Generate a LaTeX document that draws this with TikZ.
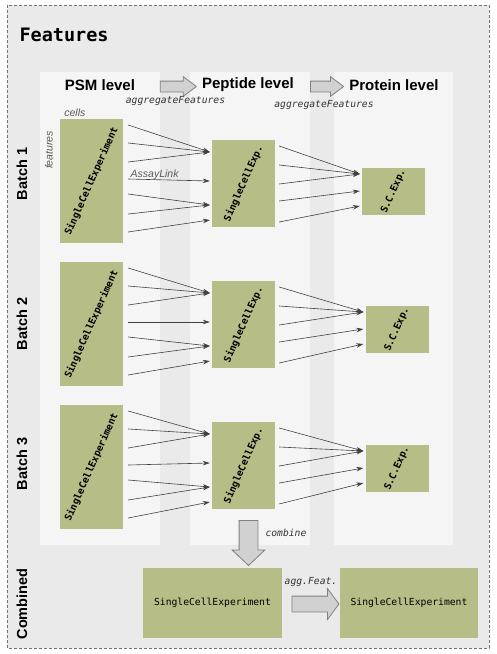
\documentclass[tikz,border=0pt]{standalone}
\usepackage{fontspec}
\setmainfont{Liberation Sans}
\setmonofont{DejaVu Sans Mono}
\usetikzlibrary{calc,positioning,shapes.arrows,arrows.meta}
\definecolor{olivebox}{RGB}{182,189,135}
\definecolor{panelgray}{RGB}{245,245,245}
\definecolor{framegray}{RGB}{234,234,234}
\definecolor{linkgray}{RGB}{64,64,64}
\definecolor{notegray}{RGB}{90,90,90}

\begin{document}
\begin{tikzpicture}[x=1pt, y=-1pt,
  sce/.style={fill=olivebox, inner sep=0pt, font=\fontsize{9.7}{11}\selectfont\ttfamily},
  panel/.style={fill=panelgray, draw=none},
  level/.style={font=\fontsize{15}{18}\selectfont\bfseries},
  batch/.style={font=\fontsize{14.5}{17}\selectfont\bfseries, rotate=90},
  link/.style={draw=linkgray, line width=0.6pt, -{Stealth[length=7pt,width=4.5pt]}},
  note/.style={font=\fontsize{10.5}{12}\selectfont\itshape, text=notegray},
  fname/.style={font=\fontsize{9.7}{11}\selectfont\ttfamily\itshape, text=black!80},
  bigarrow/.style={single arrow, draw=black!50, fill=black!18, inner xsep=0pt, line width=0.8pt}]
  \useasboundingbox (0,0) rectangle (496,654);

  % frame and level panels
  \draw[draw=black!55, fill=framegray, dash pattern=on 3pt off 2pt, line width=0.8pt] (7,5) rectangle (489,648);
  \node[font=\fontsize{18.5}{22}\selectfont\ttfamily\bfseries, anchor=west] (title) at (16,35) {Features};
  \fill[panel] (40,72) rectangle (160,545);
  \fill[panel] (190,72) rectangle (310,545);
  \fill[panel] (334,72) rectangle (453,545);

  \node[level] (psm) at (100,85) {PSM level};
  \node[level] (pep) at (248,85) {Peptide level};
  \node[level] (prot) at (394,85) {Protein level};
  \node[bigarrow, minimum height=36pt, inner ysep=5pt, single arrow head extend=4.5pt, single arrow tip angle=74] (agg1) at (174.75,86.5) {};
  \node[bigarrow, minimum height=33pt, inner ysep=5pt, single arrow head extend=4.5pt, single arrow tip angle=74] (agg2) at (323.5,86.5) {};
  \node[fname] (aggtxt1) at (175.5,101) {aggregateFeatures};
  \node[fname] (aggtxt2) at (324,105) {aggregateFeatures};

  % batches
  \foreach \b/\ya/\yb/\yc/\xc/\yl in {1/119/140/168/393.5/174, 2/262/281/306/397/324, 3/405/422/445/397/464}{
    \node[sce, minimum width=63pt, minimum height=124pt, anchor=north] (psm\b) at (91.5,\ya) {\rotatebox{66}{\bfseries SingleCellExperiment}};
    \node[sce, minimum width=63pt, minimum height=87pt, anchor=north] (pep\b) at (243.5,\yb) {\rotatebox{66}{\bfseries SingleCellExp.}};
    \node[sce, minimum width=63pt, minimum height=45pt, anchor=north] (prot\b) at (\xc,\yc) {\rotatebox{66}{\bfseries S.C.Exp.}};
    \foreach \s/\e in {6/12, 24/12, 43/12, 60/41, 75/65, 95/65, 113/80}
      \draw[link] ($(psm\b.north east)+(5,\s)$) -- ($(pep\b.north west)+(-2,\e)$);
    \foreach \s/\e in {6/6, 25/6, 44/6, 61/23, 82/38}
      \draw[link] ($(pep\b.north east)+(4,\s)$) -- ($(prot\b.north west)+(-2,\e)$);
    \node[batch] (batch\b) at (22,\yl) {Batch \b};
  }
  \node[note, anchor=base west] (cells) at ($(psm1.north west)+(1,-3)$) {cells};
  \node[note, rotate=90] (feat) at ($(psm1.north west)+(-11,31)$) {features};
  \node[note, anchor=base west] (assay) at ($(psm1.north east)+(4,58)$) {AssayLink};

  % combined
  \node[bigarrow, rotate=-90, minimum height=45pt, inner ysep=9pt, single arrow head extend=7pt, single arrow tip angle=93] (comb) at (248.5,538.5) {};
  \node[fname, anchor=west] (combtxt) at (262,533) {combine};
  \node[sce, minimum width=139pt, minimum height=70pt] (sceall) at (212.5,603) {SingleCellExperiment};
  \node[sce, minimum width=138pt, minimum height=70pt] (sceagg) at (409,603) {SingleCellExperiment};
  \node[bigarrow, minimum height=47pt, inner ysep=7.5pt, single arrow head extend=7.5pt, single arrow tip angle=107] (agg3) at (312.5,604) {};
  \node[fname] (aggtxt3) at (311,582) {agg.Feat.};
  \node[batch] (combined) at (22,604) {Combined};
\end{tikzpicture}
\end{document}
